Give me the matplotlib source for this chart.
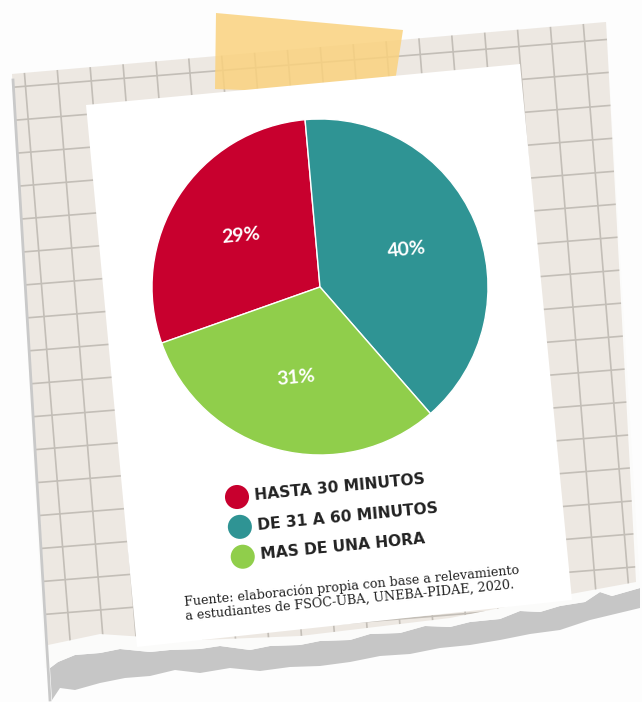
import numpy as np
import matplotlib.pyplot as plt
from matplotlib.patches import Polygon

W, H = 642, 702

categories = ["HASTA 30 MINUTOS", "DE 31 A 60 MINUTOS", "MAS DE UNA HORA"]
shares = [29, 40, 31]
colors = ["#c8002e", "#2f9494", "#90ce4b"]
source = ("Fuente: elaboración propia con base a relevamiento\n"
          "a estudiantes de FSOC-UBA, UNEBA-PIDAE, 2020.")


def px(pts):
    # pixel coords (y down) -> data coords (y up)
    return [(x, H - y) for x, y in pts]


fig = plt.figure(figsize=(W / 100, H / 100), dpi=100)
fig.patch.set_facecolor("#fdfdfd")
ax = fig.add_axes([0, 0, 1, 1])

# --- grid paper with torn bottom edge ---
torn_top = [(640, 588), (612, 596), (600, 592), (585, 602), (560, 606), (540, 612),
            (520, 611), (500, 619), (470, 622), (450, 627), (425, 626), (400, 633),
            (370, 634), (350, 640), (320, 641), (300, 645), (270, 646), (250, 650),
            (220, 646), (200, 649), (170, 650), (150, 652), (120, 649), (100, 653),
            (75, 655), (58, 662), (50, 668)]
torn_bot = [(52, 700), (60, 688), (75, 690), (100, 683), (125, 678), (150, 676),
            (175, 670), (200, 673), (230, 668), (260, 671), (290, 667), (320, 666),
            (350, 662), (380, 656), (410, 654), (440, 648), (470, 645), (500, 640),
            (530, 634), (560, 630), (590, 620), (615, 614), (640, 608)]
ax.add_patch(Polygon(px(torn_top + torn_bot), closed=True, fc="#c6c6c6",
                     ec="none", zorder=0.1))

white_edge = [(12, 74), (606, 22), (640, 588)] + torn_top[1:] + [(45, 668)]
ax.add_patch(Polygon(px(white_edge), closed=True, fc="#fbfbfa", ec="none",
                     zorder=0.15))

paper_pts = [(12, 74), (606, 22), (636, 582), (560, 596), (450, 618), (300, 636),
             (200, 640), (130, 636), (100, 634), (48, 645)]
paper = Polygon(px(paper_pts), closed=True, fc="#ede8e2", ec="none", zorder=0.2)
ax.add_patch(paper)

th = np.radians(4.6)
ua = np.array([np.cos(th), -np.sin(th)])
ub = np.array([np.sin(th), np.cos(th)])
for k in range(-3, 22):
    a = 18.5 + 33 * k
    p0 = a * ua - 200 * ub
    p1 = a * ua + 900 * ub
    ln, = ax.plot([p0[0], p1[0]], [H - p0[1], H - p1[1]], color="#c3beb7",
                  lw=1.2, zorder=0.3)
    ln.set_clip_path(paper)
    b = 22 + 33 * k
    q0 = -200 * ua + b * ub
    q1 = 900 * ua + b * ub
    ln, = ax.plot([q0[0], q1[0]], [H - q0[1], H - q1[1]], color="#c3beb7",
                  lw=1.2, zorder=0.3)
    ln.set_clip_path(paper)

ax.plot([13, 50], [H - 80, H - 700], color="#c9c9c9", lw=2, zorder=0.35)

# tape
tape = [(216, 13), (403, 30), (393, 95), (300, 92), (215, 89)]
ax.add_patch(Polygon(px(tape), closed=True, fc="#fad27e", ec="none", alpha=0.85,
                     zorder=0.4))

# white card
card = [(86, 105), (520, 64), (572, 600), (137, 647)]
ax.add_patch(Polygon(px(card), closed=True, fc="white", ec="none", zorder=0.5))

# --- pie ---
rot = 5.5
ax.pie(shares, colors=colors, startangle=199.5, counterclock=False,
       center=(320, H - 287), radius=168,
       autopct=lambda p: f"{p:.0f}%", pctdistance=0.56,
       wedgeprops=dict(edgecolor="white", linewidth=1),
       textprops=dict(color="white", fontsize=14, fontweight="bold",
                      family="Lato", rotation=rot))

# --- legend (tilted with the card) ---
r = np.radians(rot)
along = np.array([np.cos(r), np.sin(r)])
down = np.array([np.sin(r), -np.cos(r)])
m0 = np.array([237, H - 497])
for i, (lab, c) in enumerate(zip(categories, colors)):
    m = m0 + 30 * i * down
    ax.scatter([m[0]], [m[1]], s=300, color=c, edgecolors="none", zorder=3)
    t = m + 18 * along
    ax.text(t[0], t[1], lab, fontsize=11.2, fontweight="bold",
            family="DejaVu Sans", color="#222222", ha="left", va="center",
            rotation=rot, rotation_mode="anchor", zorder=3)

ax.text(186, H - 623, source, fontsize=9.2, family="DejaVu Serif",
        color="#222222", ha="left", va="bottom", rotation=rot,
        rotation_mode="anchor", linespacing=1.15, zorder=3)

ax.set_xlim(0, W)
ax.set_ylim(0, H)
ax.set_aspect("auto")
ax.axis("off")
fig.savefig("out.png", dpi=100, facecolor=fig.get_facecolor())
